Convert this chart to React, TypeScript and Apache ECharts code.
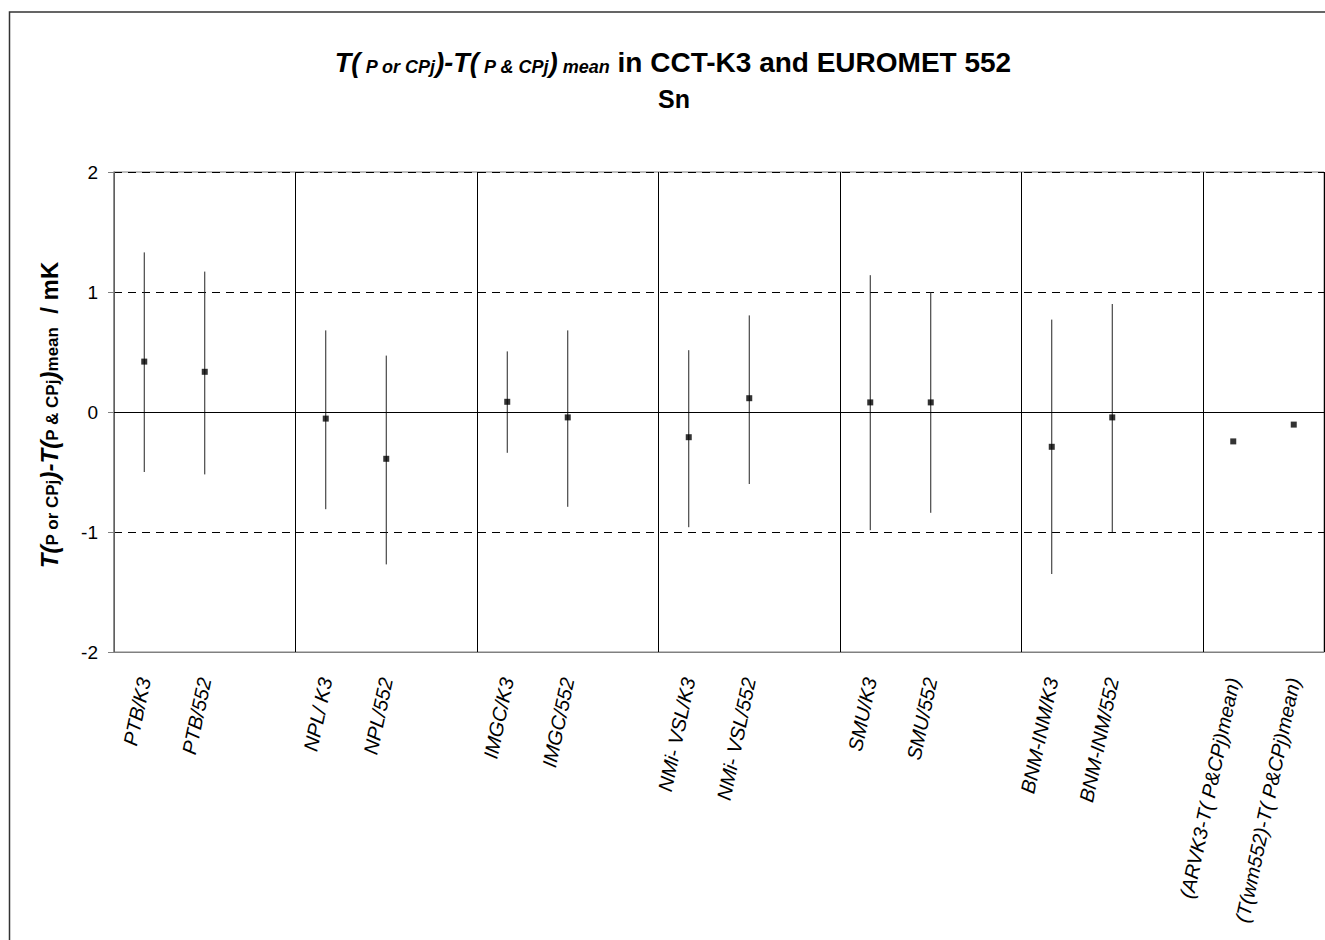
import React, { useEffect, useRef } from "react";
import * as echarts from "echarts";

const categories = [
  "PTB/K3", "PTB/552", "",
  "NPL/ K3", "NPL/552", "",
  "IMGC/K3", "IMGC/552", "",
  "NMi- VSL/K3", "NMi- VSL/552", "",
  "SMU/K3", "SMU/552", "",
  "BNM-INM/K3", "BNM-INM/552", "",
  "(ARVK3-T( P&CPj)mean)", "(T(wm552)-T( P&CPj)mean)",
];

// index into categories, value, low, high
const pointIndex = [0, 1, 3, 4, 6, 7, 9, 10, 12, 13, 15, 16, 18, 19];
const pointValue = [0.42, 0.335, -0.055, -0.39, 0.085, -0.045, -0.21, 0.115, 0.08, 0.08, -0.29, -0.045, -0.245, -0.105];
const barIndex = [0, 1, 3, 4, 6, 7, 9, 10, 12, 13, 15, 16];
const barLow = [-0.5, -0.52, -0.81, -1.27, -0.34, -0.79, -0.96, -0.6, -0.985, -0.84, -1.35, -1.0];
const barHigh = [1.33, 1.17, 0.68, 0.47, 0.505, 0.68, 0.515, 0.805, 1.14, 1.0, 0.77, 0.9];

const yTicks = { min: -2, max: 2, interval: 1 };
const groupSize = 3;

const FONT = 'Arial, "Liberation Sans", sans-serif';

export default function App() {
  const ref = useRef<HTMLDivElement>(null);
  useEffect(() => {
    document.body.style.margin = "0";
    document.body.style.overflow = "hidden";
    const chart = echarts.init(ref.current!, null, { renderer: "svg" });
    const big = { fontFamily: FONT, fontSize: 27, fontWeight: "bold", fontStyle: "italic", color: "#000", lineHeight: 32, verticalAlign: "bottom" };
    const sub = { fontFamily: FONT, fontSize: 18, fontWeight: "bold", fontStyle: "italic", color: "#000", lineHeight: 22, verticalAlign: "bottom" };
    const norm = { fontFamily: FONT, fontSize: 28, fontWeight: "bold", color: "#000", lineHeight: 32, verticalAlign: "bottom" };
    const ybig = { fontFamily: FONT, fontSize: 24, fontWeight: "bold", fontStyle: "italic", color: "#000", lineHeight: 28, verticalAlign: "bottom" };
    const ysub = { fontFamily: FONT, fontSize: 17, fontWeight: "bold", color: "#000", lineHeight: 19, verticalAlign: "bottom" };
    const ynorm = { fontFamily: FONT, fontSize: 24, fontWeight: "bold", color: "#000", lineHeight: 28, verticalAlign: "bottom" };

    chart.setOption({
      animation: false,
      backgroundColor: "#fff",
      graphic: [
        {
          type: "rect",
          shape: { x: 9.5, y: 12, width: 1400, height: 1000 },
          style: { fill: "none", stroke: "#333", lineWidth: 1.5 },
          silent: true,
          z: -1,
        },
        {
          type: "text",
          x: 673,
          y: 60,
          style: {
            text: "{b|T(}{s| P or CPj}{b|)-T(}{s| P & CPj}{b|)}{s| mean}{n| in CCT-K3 and EUROMET 552}",
            align: "center",
            verticalAlign: "middle",
            rich: { b: big, s: sub, n: norm },
          },
        },
        {
          type: "text",
          x: 674,
          y: 99,
          style: {
            text: "Sn",
            align: "center",
            verticalAlign: "middle",
            fontFamily: FONT,
            fontSize: 25,
            fontWeight: "bold",
            fill: "#000",
          },
        },
        {
          type: "text",
          x: 47,
          y: 415,
          rotation: Math.PI / 2,
          style: {
            text: "{b|T(}{s|P or CPj}{b|)-T(}{s|P & CPj}{b|)}{s|mean}{n|  / mK}",
            align: "center",
            verticalAlign: "middle",
            rich: { b: ybig, s: ysub, n: ynorm },
          },
        },
      ],
      grid: { left: 114, top: 172, width: 1210, height: 480, show: true, borderColor: "#808080", borderWidth: 1 },
      xAxis: [
        {
          type: "category",
          data: categories,
          boundaryGap: true,
          axisLine: { show: true, onZero: false, lineStyle: { color: "#808080", width: 1 } },
          axisTick: { show: false },
          splitLine: { show: false },
          axisLabel: {
            interval: 0,
            rotate: 78,
            margin: 26,
            fontFamily: FONT,
            fontSize: 20,
            fontStyle: "italic",
            color: "#000",
          },
        },
        {
          type: "value",
          position: "top",
          min: 0,
          max: categories.length,
          interval: groupSize,
          axisLine: { show: false },
          axisTick: { show: false },
          axisLabel: { show: false },
          splitLine: { show: true, lineStyle: { color: "#000", width: 1, type: "solid" } },
        },
      ],
      yAxis: {
        type: "value",
        min: yTicks.min,
        max: yTicks.max,
        interval: yTicks.interval,
        axisLine: { show: true, lineStyle: { color: "#808080", width: 1.5 } },
        axisTick: { show: true, inside: false, length: 6, lineStyle: { color: "#808080" } },
        axisLabel: { fontFamily: FONT, fontSize: 19, color: "#000", margin: 16 },
        splitLine: { show: true, lineStyle: { color: "#000", width: 1, type: [8, 6] } },
      },
      series: [
        {
          type: "custom",
          xAxisIndex: 0,
          yAxisIndex: 0,
          data: barIndex.map((c, i) => [c, barLow[i], barHigh[i]]),
          encode: { x: 0, y: [1, 2] },
          renderItem: (params: any, api: any) => {
            const lo = api.coord([api.value(0), api.value(1)]);
            const hi = api.coord([api.value(0), api.value(2)]);
            return {
              type: "line",
              shape: { x1: lo[0], y1: lo[1], x2: hi[0], y2: hi[1] },
              style: { stroke: "#222", lineWidth: 1 },
            };
          },
          z: 3,
          silent: true,
        },
        {
          type: "scatter",
          xAxisIndex: 0,
          yAxisIndex: 0,
          data: pointIndex.map((c, i) => [c, pointValue[i]]),
          symbol: "rect",
          symbolSize: 6,
          itemStyle: { color: "#000" },
          z: 4,
          silent: true,
          markLine: {
            silent: true,
            symbol: "none",
            label: { show: false },
            lineStyle: { color: "#000", width: 1, type: "solid" },
            data: [{ yAxis: 0 }],
          },
        },
      ],
    });
    return () => chart.dispose();
  }, []);
  return <div ref={ref} style={{ width: 1325, height: 940 }} />;
}
